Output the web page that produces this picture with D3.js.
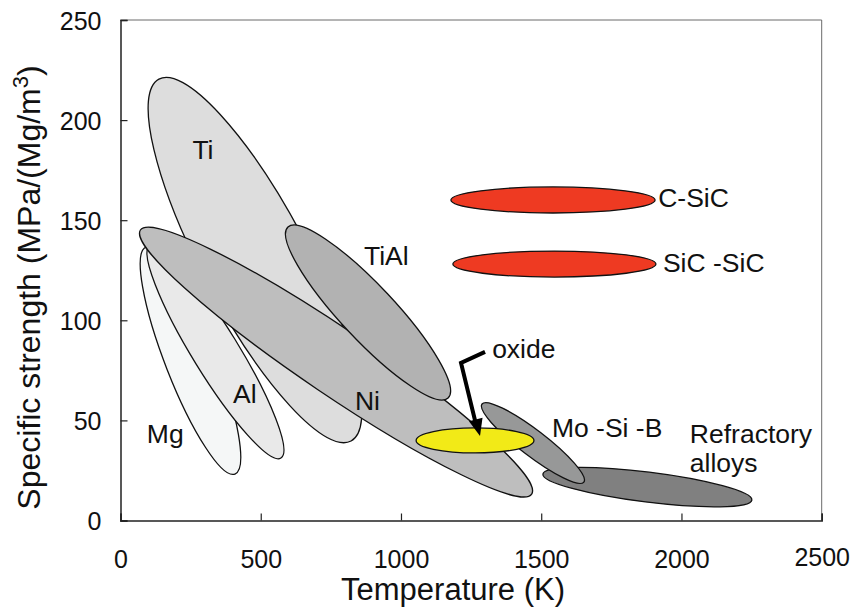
<!DOCTYPE html>
<html>
<head>
<meta charset="utf-8">
<script src="https://cdn.jsdelivr.net/npm/d3@7"></script>
<style>
  html, body { margin: 0; padding: 0; background: #fff; }
  svg { display: block; font-family: "Liberation Sans", Arial, Helvetica, sans-serif; }
</style>
</head>
<body>
<svg id="chart" width="855" height="611"></svg>
<script>
// Material families, drawn back to front
const families = ["Mg", "Al", "Ti", "Ni", "TiAl", "Refractory alloys", "Mo-Si-B", "oxide", "C-SiC", "SiC-SiC"];
// Temperature (K) at the two ends of each property band
const tempStart = [91, 105, 137, 71, 597, 1506, 1289, 1054, 1178, 1185];
const tempEnd   = [408, 572, 822, 1466, 1168, 2251, 1652, 1474, 1906, 1909];
// Specific strength (MPa/(Mg/m3)) at the two ends of each band
const strengthStart = [136.6, 137.6, 220.5, 145.1, 146.6, 23.2, 58.2, 40, 160.1, 128.1];
const strengthEnd   = [23.2, 31.2, 39.7, 13.2, 61.2, 10.2, 19.2, 40, 160.1, 128.1];
// Half spread of each band across its long axis, MPa/(Mg/m3)
const bandSpread = [12.5, 11.5, 26.5, 16.5, 13.5, 7.5, 6.5, 6.25, 6.5, 6.5];

const xTicks = [0, 500, 1000, 1500, 2000, 2500];
const yTicks = [0, 50, 100, 150, 200, 250];

// Label anchors (temperature, strength) for each family name
const labelText = ["Mg", "Al", "Ti", "Ni", "TiAl", ["Refractory", "alloys"], "Mo -Si -B", "oxide", "C-SiC", "SiC -SiC"];
const labelTemp = [94, 401, 294, 836, 868, 2030, 1538, 1325, 1917, 1934];
const labelStrength = [38.7, 58.7, 180.5, 55.2, 127.6, 38.7, 41.7, 81.2, 156.6, 124.1];

const fills = {
  "Mg": "#f5f7f7", "Al": "#e9e9e9", "Ti": "#dddddd", "Ni": "#bebebe", "TiAl": "#b2b2b2",
  "Refractory alloys": "#808080", "Mo-Si-B": "#979898", "oxide": "#f2ea17",
  "C-SiC": "#ee3a22", "SiC-SiC": "#ee3a22"
};

const x = d3.scaleLinear().domain([0, 2500]).range([120.5, 821.7]);
const y = d3.scaleLinear().domain([0, 250]).range([520.5, 20]);

const svg = d3.select("#chart");
const pxPerStrength = y(0) - y(1);

const bands = families.map((name, i) => {
  const x1 = x(tempStart[i]), y1 = y(strengthStart[i]);
  const x2 = x(tempEnd[i]), y2 = y(strengthEnd[i]);
  return {
    name,
    cx: (x1 + x2) / 2,
    cy: (y1 + y2) / 2,
    rx: Math.hypot(x2 - x1, y2 - y1) / 2,
    ry: bandSpread[i] * pxPerStrength,
    angle: Math.atan2(y2 - y1, x2 - x1) * 180 / Math.PI
  };
});

// Frame (top and right edges are lighter than the axes)
svg.append("line").attr("x1", x(0)).attr("x2", x(2500)).attr("y1", y(250)).attr("y2", y(250))
  .attr("stroke", "#6a6a6a").attr("stroke-width", 1);
svg.append("line").attr("x1", x(2500)).attr("x2", x(2500)).attr("y1", y(250)).attr("y2", y(0))
  .attr("stroke", "#6a6a6a").attr("stroke-width", 1);

// Property bands
svg.append("g").selectAll("ellipse")
  .data(bands)
  .join("ellipse")
  .attr("cx", d => d.cx)
  .attr("cy", d => d.cy)
  .attr("rx", d => d.rx)
  .attr("ry", d => d.ry)
  .attr("transform", d => `rotate(${d.angle},${d.cx},${d.cy})`)
  .attr("fill", d => fills[d.name])
  .attr("stroke", "#111")
  .attr("stroke-width", 1.3);

// Axes with inward ticks
const xAxis = svg.append("g")
  .attr("transform", `translate(0,${y(0)})`)
  .call(d3.axisBottom(x).tickValues(xTicks).tickSize(-7).tickPadding(30).tickFormat(d3.format("d")));
const yAxis = svg.append("g")
  .attr("transform", `translate(${x(0)},0)`)
  .call(d3.axisLeft(y).tickValues(yTicks).tickSize(-7).tickPadding(19).tickFormat(d3.format("d")));

[xAxis, yAxis].forEach(g => {
  g.select(".domain").attr("stroke", "#222").attr("stroke-width", 1.5);
  g.selectAll(".tick line").attr("stroke", "#222").attr("stroke-width", 1.2);
  g.selectAll(".tick text").attr("fill", "#111").style("font-size", "25px")
    .style("font-family", '"Liberation Sans", Arial, sans-serif');
});
yAxis.selectAll(".tick text").attr("dy", "0.36em");
// the last temperature label sits a touch higher
xAxis.selectAll(".tick text").filter(d => d === 2500).attr("y", 28);

// Axis titles
svg.append("text")
  .attr("x", 453).attr("y", 600)
  .attr("text-anchor", "middle")
  .attr("fill", "#111")
  .style("font-size", "31px")
  .text("Temperature (K)");

const yTitle = svg.append("text")
  .attr("transform", `translate(40,287.5) rotate(-90)`)
  .attr("text-anchor", "middle")
  .attr("fill", "#111")
  .style("font-size", "32px");
yTitle.append("tspan").text("Specific strength (MPa/(Mg/m");
yTitle.append("tspan").attr("dy", -12).style("font-size", "22px").text("3");
yTitle.append("tspan").attr("dy", 12).text(")");

// Family labels
const labels = svg.append("g").attr("fill", "#111").style("font-size", "26.5px");
labelText.forEach((t, i) => {
  const lines = Array.isArray(t) ? t : [t];
  const txt = labels.append("text")
    .attr("x", x(labelTemp[i]))
    .attr("y", y(labelStrength[i]))
    .attr("text-anchor", families[i] === "Ti" ? "middle" : "start");
  lines.forEach((line, k) => {
    txt.append("tspan")
      .attr("x", x(labelTemp[i]))
      .attr("dy", k === 0 ? 0 : 29)
      .text(line);
  });
});

// Arrow from the "oxide" label to its band
const ox = bands[families.indexOf("oxide")];
const arrowPts = [[ox.cx + 10, ox.cy - 88.5], [ox.cx - 14, ox.cy - 77.5], [ox.cx + 0.5, ox.cy - 18]];
svg.append("path")
  .attr("d", d3.line()(arrowPts))
  .attr("fill", "none")
  .attr("stroke", "#000")
  .attr("stroke-width", 4)
  .attr("stroke-linejoin", "miter");
const tip = [ox.cx + 5, ox.cy - 4.5];
const from = arrowPts[1];
const ang = Math.atan2(tip[1] - from[1], tip[0] - from[0]);
const headLen = 17, headHalf = 7;
const baseX = tip[0] - headLen * Math.cos(ang), baseY = tip[1] - headLen * Math.sin(ang);
svg.append("path")
  .attr("d", d3.line()([
    tip,
    [baseX + headHalf * Math.sin(ang), baseY - headHalf * Math.cos(ang)],
    [baseX - headHalf * Math.sin(ang), baseY + headHalf * Math.cos(ang)]
  ]) + "Z")
  .attr("fill", "#000");
</script>
</body>
</html>
